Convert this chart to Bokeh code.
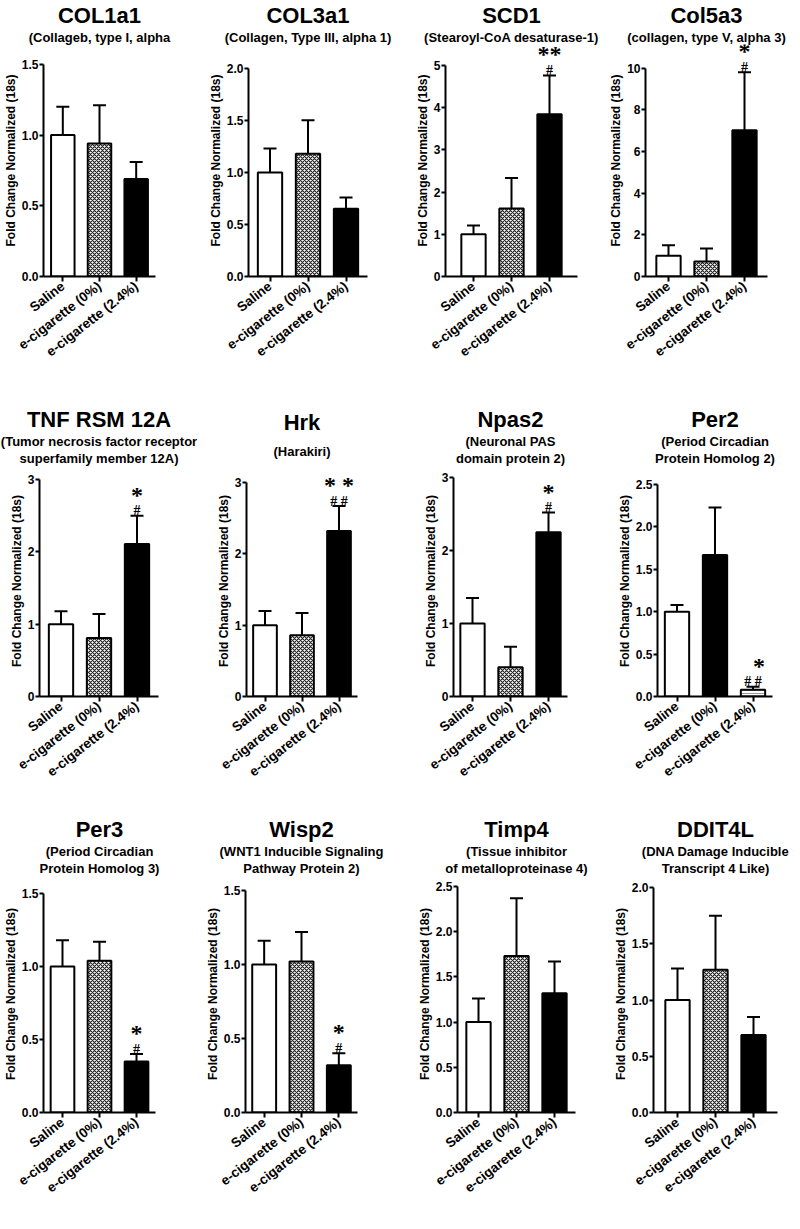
from math import radians
from bokeh.plotting import figure
from bokeh.layouts import column, row
from bokeh.models import (ColumnDataSource, FactorRange, Range1d, FixedTicker,
                          NumeralTickFormatter, Whisker, TeeHead, Title)
from bokeh.embed import file_html
from bokeh.resources import INLINE

# ---------------- data ----------------
groups = ["Saline", "e-cigarette (0%)", "e-cigarette (2.4%)"]

genes = ["COL1a1", "COL3a1", "SCD1", "Col5a3",
         "TNF RSM 12A", "Hrk", "Npas2", "Per2",
         "Per3", "Wisp2", "Timp4", "DDIT4L"]

subtitles = [
    ["(Collageb, type I, alpha"],
    ["(Collagen, Type III, alpha 1)"],
    ["(Stearoyl-CoA desaturase-1)"],
    ["(collagen, type V, alpha 3)"],
    ["(Tumor necrosis factor receptor", "superfamily member 12A)"],
    ["(Harakiri)"],
    ["(Neuronal PAS", "domain protein 2)"],
    ["(Period Circadian", "Protein Homolog 2)"],
    ["(Period Circadian", "Protein Homolog 3)"],
    ["(WNT1 Inducible Signaling", "Pathway Protein 2)"],
    ["(Tissue inhibitor", "of metalloproteinase 4)"],
    ["(DNA Damage Inducible", "Transcript 4 Like)"],
]

col1a1_mean = [1.00, 0.94, 0.69]
col1a1_sem = [0.20, 0.27, 0.12]
col3a1_mean = [1.00, 1.18, 0.65]
col3a1_sem = [0.23, 0.32, 0.11]
scd1_mean = [1.00, 1.61, 3.84]
scd1_sem = [0.21, 0.72, 0.92]
col5a3_mean = [1.00, 0.72, 7.03]
col5a3_sem = [0.50, 0.62, 2.78]
tnf_mean = [1.00, 0.81, 2.11]
tnf_sem = [0.18, 0.33, 0.39]
hrk_mean = [1.00, 0.86, 2.32]
hrk_sem = [0.20, 0.31, 0.35]
npas2_mean = [1.00, 0.40, 2.25]
npas2_sem = [0.35, 0.28, 0.27]
per2_mean = [1.00, 1.67, 0.08]
per2_sem = [0.08, 0.56, 0.035]
per3_mean = [1.00, 1.04, 0.35]
per3_sem = [0.18, 0.13, 0.05]
wisp2_mean = [1.00, 1.02, 0.32]
wisp2_sem = [0.16, 0.20, 0.08]
timp4_mean = [1.00, 1.73, 1.32]
timp4_sem = [0.26, 0.64, 0.35]
ddit4l_mean = [1.00, 1.27, 0.69]
ddit4l_sem = [0.28, 0.48, 0.16]

means = [col1a1_mean, col3a1_mean, scd1_mean, col5a3_mean, tnf_mean, hrk_mean,
         npas2_mean, per2_mean, per3_mean, wisp2_mean, timp4_mean, ddit4l_mean]
sems = [col1a1_sem, col3a1_sem, scd1_sem, col5a3_sem, tnf_sem, hrk_sem,
        npas2_sem, per2_sem, per3_sem, wisp2_sem, timp4_sem, ddit4l_sem]

y_ticks = [
    [0, 0.5, 1.0, 1.5],
    [0, 0.5, 1.0, 1.5, 2.0],
    [0, 1, 2, 3, 4, 5],
    [0, 2, 4, 6, 8, 10],
    [0, 1, 2, 3],
    [0, 1, 2, 3],
    [0, 1, 2, 3],
    [0, 0.5, 1.0, 1.5, 2.0, 2.5],
    [0, 0.5, 1.0, 1.5],
    [0, 0.5, 1.0, 1.5],
    [0, 0.5, 1.0, 1.5, 2.0, 2.5],
    [0, 0.5, 1.0, 1.5, 2.0],
]

# significance vs saline (*) and vs e-cigarette 0% (#), on the 2.4% group
sig_star = ["", "", "**", "*", "*", "* *", "*", "*", "*", "*", "", ""]
sig_hash = ["", "", "#", "#", "#", "# #", "#", "# #", "#", "#", "", ""]

# ---------------- styles / layout ----------------
FONT = "Liberation Sans"
COL_X = [0, 200, 400, 600]
COL_W = 200
ROW_Y = [0, 400, 808]
ROW_H = [400, 408, 421]
ROW_FTOP = [42, 465, 875]     # top of plotting frame (page px), same for a row
ROW_ZERO = [276, 696, 1112]   # y = 0 line (page px), same for a row
# page px: axis left, axis right, y-max tick
FRAMES = [
    (39, 155, 62), (248, 367, 66), (445, 577, 63), (645, 767, 66),
    (39, 158, 479), (246, 357, 482), (453, 567, 477), (657, 772, 484),
    (40, 155, 893), (245, 357, 890), (457, 575, 886), (653, 777, 887),
]
SUB_STANDOFF = [0] * 12
SUB_STANDOFF[5] = 14
BAR_STYLES = {
    "open": dict(fill="white", hatch=" ", hcolor="black", hscale=4, hweight=1),
    "checker": dict(fill="white", hatch="diagonal_cross", hcolor="#222222", hscale=4, hweight=1.2),
    "solid": dict(fill="black", hatch=" ", hcolor="black", hscale=4, hweight=1),
    "hline": dict(fill="white", hatch="horizontal_line", hcolor="#999999", hscale=3, hweight=1),
}
panel_styles = [["open", "checker", "solid"]] * 12
panel_styles[7] = ["open", "solid", "hline"]
star_dx = [0] * 12
star_dx[7] = 6
HASH_DY = -5    # screen px (negative = up)
STAR_DY = -21


def make_panel(i):
    r, c = divmod(i, 4)
    fl, fr, ptop = FRAMES[i]
    ftop, pzero = ROW_FTOP[r], ROW_ZERO[r]
    width_px = fr - fl
    rp = max(0.0, width_px / 114.0 - 1.0)
    ticks = y_ticks[i]
    ymax = ticks[-1]
    y_end = ymax * (pzero - ftop) / (pzero - ptop)
    p = figure(
        x_range=FactorRange(*groups, range_padding=rp),
        y_range=Range1d(0, y_end),
        width=COL_W, height=ROW_H[r],
        min_border_left=fl - COL_X[c], min_border_right=COL_X[c] + COL_W - fr,
        min_border_top=ftop - ROW_Y[r], min_border_bottom=ROW_Y[r] + ROW_H[r] - pzero,
        output_backend="svg", toolbar_location=None, title_location=None,
    )
    p.outline_line_color = None
    p.grid.visible = False
    p.background_fill_color = "white"
    p.border_fill_color = "white"

    lines = subtitles[i]
    for k, line in enumerate(reversed(lines)):
        p.add_layout(Title(text=line, align="center", text_font=FONT,
                           text_font_size="13px", text_font_style="bold",
                           text_color="black",
                           standoff=SUB_STANDOFF[i] if k == 0 else 0), "above")
    p.add_layout(Title(text=genes[i], align="center", text_font=FONT,
                       text_font_size="22px", text_font_style="bold",
                       text_color="black", standoff=0), "above")

    m = means[i]
    s = sems[i]
    st = [BAR_STYLES[k] for k in panel_styles[i]]
    src = ColumnDataSource(dict(
        x=groups, mean=m, top=[a + b for a, b in zip(m, s)],
        fill=[d["fill"] for d in st], hatch=[d["hatch"] for d in st],
        hcolor=[d["hcolor"] for d in st], hscale=[d["hscale"] for d in st],
        hweight=[d["hweight"] for d in st],
    ))
    p.vbar(x="x", top="mean", bottom=0, width=0.64, source=src,
           fill_color="fill", line_color="black", line_width=2,
           hatch_pattern="hatch", hatch_color="hcolor", hatch_scale="hscale",
           hatch_weight="hweight")
    p.add_layout(Whisker(source=src, base="x", upper="top", lower="mean",
                         dimension="height", line_color="black", line_width=2,
                         upper_head=TeeHead(size=13, line_width=2, line_color="black"),
                         lower_head=None))

    top3 = m[2] + s[2]
    if sig_hash[i]:
        p.text(x=[groups[2]], y=[top3], text=[sig_hash[i]], text_align="center",
               text_baseline="alphabetic", y_offset=HASH_DY,
               text_font=FONT, text_font_size="14px",
               text_font_style="bold", text_color="black")
    if sig_star[i]:
        p.text(x=[groups[2]], y=[top3], text=[sig_star[i]], text_align="center",
               text_baseline="alphabetic", y_offset=STAR_DY, x_offset=star_dx[i],
               text_font=FONT, text_font_size="24px",
               text_font_style="bold", text_color="black")

    ax = p.xaxis[0]
    ax.axis_line_width = 2
    ax.axis_line_color = "black"
    ax.major_tick_line_width = 2
    ax.major_tick_line_color = "black"
    ax.major_tick_out = 5
    ax.major_tick_in = 0
    ax.minor_tick_line_color = None
    ax.major_label_orientation = radians(38)
    ax.major_label_standoff = 3
    ax.major_label_text_font = FONT
    ax.major_label_text_font_size = "13.5px"
    ax.major_label_text_font_style = "bold"
    ax.major_label_text_color = "black"

    ay = p.yaxis[0]
    ay.bounds = (0, ymax)
    ay.ticker = FixedTicker(ticks=ticks)
    ay.formatter = NumeralTickFormatter(format="0.0" if ticks[1] < 1 else "0")
    ay.axis_line_width = 2
    ay.axis_line_color = "black"
    ay.major_tick_line_width = 2
    ay.major_tick_line_color = "black"
    ay.major_tick_out = 4
    ay.major_tick_in = 0
    ay.minor_tick_line_color = None
    ay.major_label_standoff = 1
    ay.major_label_text_font = FONT
    ay.major_label_text_font_size = "12px"
    ay.major_label_text_font_style = "bold"
    ay.major_label_text_color = "black"
    ay.axis_label = "Fold Change Normalized (18s)"
    ay.axis_label_standoff = 1
    ay.axis_label_text_font = FONT
    ay.axis_label_text_font_size = "12px"
    ay.axis_label_text_font_style = "bold"
    ay.axis_label_text_color = "black"
    return p


panels = [make_panel(i) for i in range(12)]
layout = column(row(*panels[0:4]), row(*panels[4:8]), row(*panels[8:12]))
open("out.html", "w").write(file_html(layout, INLINE))
